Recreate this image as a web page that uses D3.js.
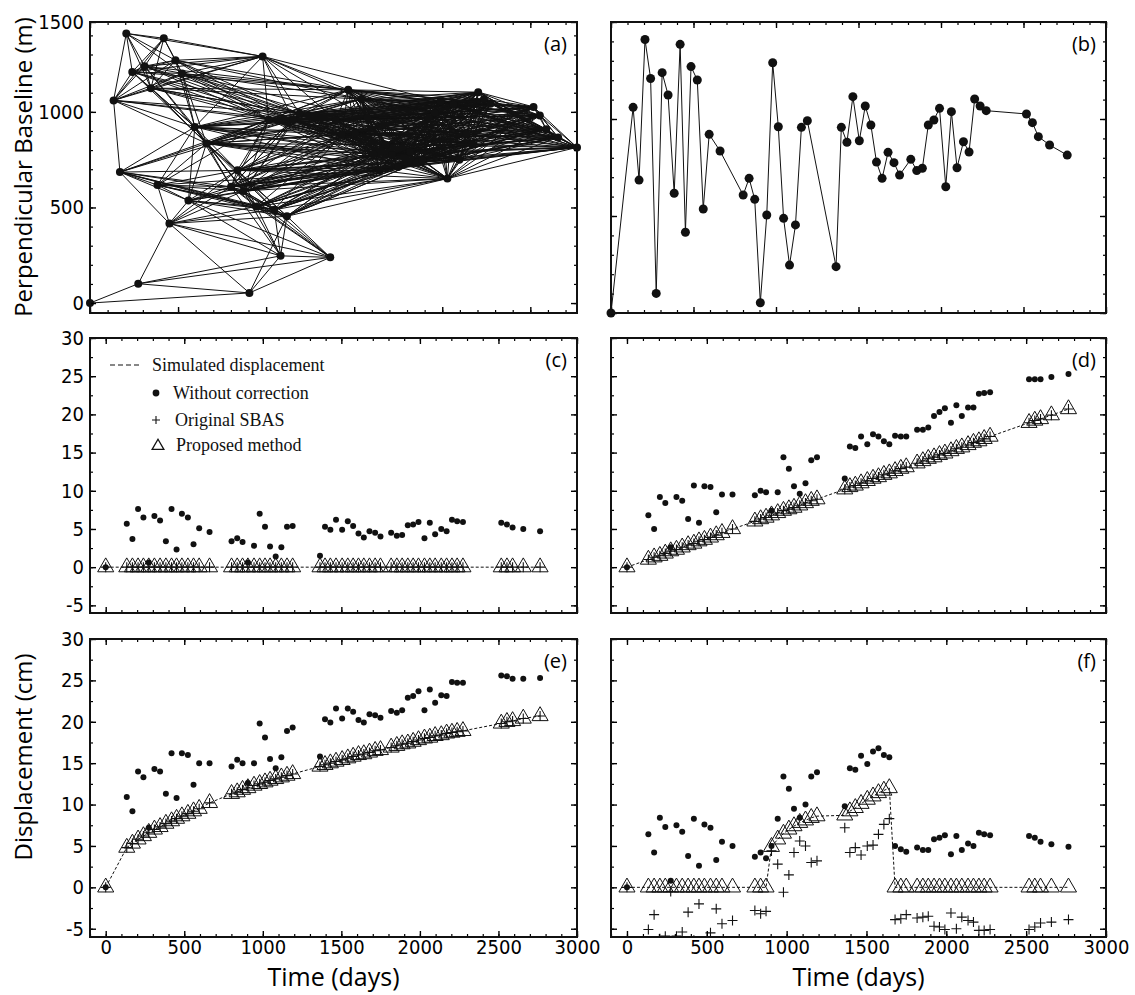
<!DOCTYPE html>
<html>
<head>
<meta charset="utf-8">
<script src="https://cdn.jsdelivr.net/npm/d3@7"></script>
<style>
  body { margin: 0; background: #fff; }
  svg { display: block; }
</style>
</head>
<body>
<svg id="fig" width="1135" height="995"></svg>
<script>
// acquisition dates (days after the first image), grouped the way they cluster in the plots
var times = [
  0,
  134, 170, 206, 240, 274, 310, 346, 383, 419, 451, 485, 523, 559, 595, 661,
  801, 837, 871, 905, 944, 980, 1014, 1046, 1082, 1118, 1154, 1190,
  1364, 1396, 1430, 1466, 1505, 1541, 1575, 1609, 1643, 1679, 1715, 1749,
  1817, 1853, 1887, 1923, 1957, 1991, 2029, 2063, 2097, 2136, 2170, 2204, 2237, 2274,
  2518, 2554, 2590, 2658, 2765
];
// perpendicular baseline of each acquisition (m)
var baselines = [
  0,
  1060, 685, 1410, 1209, 101, 1239, 1124, 617, 1385, 416, 1270, 1201, 536, 921, 835,
  608, 694, 586, 53, 505, 1290, 960, 488, 247, 454, 957, 991,
  239, 957, 880, 1115, 888, 1067, 969, 778, 694, 828, 775, 711,
  792, 734, 746, 969, 995, 1055, 651, 1038, 749, 883, 830, 1103, 1067, 1043,
  1026, 981, 909, 866, 814
];
// interferogram pair selection used for the network in (a)
var maxTemporal = 1300;   // days
var maxPerp = 420;        // m

// (c) no deformation
var simC = [
  0,
  0, 0, 0, 0, 0, 0, 0, 0, 0, 0, 0, 0, 0, 0, 0,
  0, 0, 0, 0, 0, 0, 0, 0, 0, 0, 0, 0,
  0, 0, 0, 0, 0, 0, 0, 0, 0, 0, 0, 0,
  0, 0, 0, 0, 0, 0, 0, 0, 0, 0, 0, 0, 0, 0,
  0, 0, 0, 0, 0
];
var noCorrC = [
  0,
  5.7, 3.7, 7.6, 6.5, 0.6, 6.7, 6.1, 3.4, 7.6, 2.3, 7.0, 6.5, 3.0, 5.1, 4.6,
  3.4, 3.8, 3.3, 0.6, 2.8, 7.0, 5.3, 2.7, 1.4, 2.6, 5.3, 5.4,
  1.5, 5.3, 4.9, 6.2, 4.9, 6.0, 5.4, 4.4, 3.9, 4.7, 4.5, 4.0,
  4.5, 4.1, 4.2, 5.5, 5.6, 5.9, 3.8, 5.8, 4.3, 5.0, 4.7, 6.2, 6.0, 5.9,
  5.8, 5.6, 5.2, 5.0, 4.7
];
// (d) linear deformation
var simD = [
  0,
  1.0, 1.3, 1.5, 1.8, 2.1, 2.3, 2.6, 2.9, 3.1, 3.4, 3.6, 3.9, 4.2, 4.5, 5.0,
  6.0, 6.3, 6.5, 6.8, 7.1, 7.4, 7.6, 7.8, 8.1, 8.4, 8.7, 8.9,
  10.2, 10.5, 10.7, 11.0, 11.3, 11.6, 11.8, 12.1, 12.3, 12.6, 12.9, 13.1,
  13.6, 13.9, 14.2, 14.4, 14.7, 14.9, 15.2, 15.5, 15.7, 16.0, 16.3, 16.5, 16.8, 17.1,
  18.9, 19.2, 19.4, 19.9, 20.7
];
var noCorrD = [
  0,
  6.8, 5.0, 9.2, 8.4, 2.6, 9.2, 8.7, 6.3, 10.7, 5.8, 10.6, 10.5, 7.2, 9.5, 9.5,
  9.4, 10.0, 9.8, 7.4, 9.8, 14.4, 12.9, 10.6, 9.6, 11.0, 14.0, 14.4,
  11.6, 15.8, 15.6, 17.1, 16.1, 17.4, 17.1, 16.5, 16.1, 17.2, 17.1, 17.1,
  18.0, 18.0, 18.3, 19.8, 20.3, 20.8, 18.9, 21.2, 19.8, 20.9, 20.9, 22.7, 22.8, 22.9,
  24.6, 24.6, 24.6, 24.9, 25.3
];
// (e) nonlinear deformation
var simE = [
  0,
  4.8, 5.3, 5.8, 6.2, 6.6, 7.0, 7.3, 7.7, 8.0, 8.3, 8.6, 8.9, 9.2, 9.5, 10.2,
  11.3, 11.5, 11.8, 12.0, 12.3, 12.5, 12.7, 12.9, 13.1, 13.3, 13.5, 13.7,
  14.6, 14.8, 15.0, 15.2, 15.4, 15.6, 15.8, 16.0, 16.1, 16.3, 16.5, 16.6,
  16.9, 17.1, 17.3, 17.4, 17.6, 17.8, 18.0, 18.1, 18.3, 18.4, 18.6, 18.7, 18.8, 18.9,
  19.8, 20.0, 20.1, 20.4, 20.7
];
var noCorrE = [
  0,
  10.9, 9.2, 14.0, 13.3, 7.2, 14.3, 14.0, 11.3, 16.2, 10.8, 16.2, 16.0, 12.4, 15.0, 15.0,
  14.6, 15.4, 15.0, 12.6, 15.0, 19.8, 18.1, 15.5, 14.4, 15.7, 18.9, 19.3,
  15.8, 20.3, 19.9, 21.6, 20.4, 21.6, 21.2, 20.2, 19.9, 20.9, 20.8, 20.5,
  21.3, 21.1, 21.4, 22.9, 23.1, 23.7, 21.4, 23.9, 22.3, 23.2, 23.1, 24.8, 24.7, 24.7,
  25.6, 25.5, 25.2, 25.2, 25.3
];
// (f) deformation with jumps
var simF = [
  0,
  0, 0, 0, 0, 0, 0, 0, 0, 0, 0, 0, 0, 0, 0, 0,
  0, 0, 0, 4.9, 5.8, 6.5, 7.0, 7.4, 7.8, 8.1, 8.4, 8.6,
  8.7, 9.2, 9.6, 10.1, 10.6, 11.0, 11.4, 11.7, 12.0, 0, 0, 0,
  0, 0, 0, 0, 0, 0, 0, 0, 0, 0, 0, 0, 0, 0,
  0, 0, 0, 0, 0
];
var noCorrF = [
  0,
  6.4, 4.2, 8.4, 7.3, 0.8, 7.5, 6.7, 3.8, 8.3, 2.6, 7.6, 7.2, 3.3, 5.5, 5.0,
  3.7, 4.2, 3.5, 5.0, 8.3, 13.4, 11.9, 9.5, 8.4, 10.0, 13.4, 13.9,
  9.8, 14.4, 14.2, 15.9, 14.9, 16.4, 16.8, 16.0, 15.7, 5.0, 4.6, 4.3,
  4.8, 4.5, 4.5, 5.8, 6.0, 6.3, 4.0, 6.2, 4.5, 5.3, 5.0, 6.6, 6.4, 6.3,
  6.2, 6.0, 5.5, 5.2, 4.9
];
var sbasF = [
  0,
  -5.1, -3.3, -6.2, -5.9, -0.5, -5.9, -5.4, -3.0, -6.4, -2.0, -6.5, -5.5, -2.6, -4.4, -4.0,
  -2.8, -3.2, -2.9, 4.4, 2.8, -0.6, 1.5, 4.2, 5.6, 5.0, 3.0, 3.2,
  7.2, 4.2, 4.8, 3.9, 5.0, 5.1, 6.4, 7.6, 8.3, -3.9, -3.8, -3.3,
  -3.7, -3.6, -3.5, -4.7, -4.8, -5.1, -3.1, -5.0, -3.6, -4.0, -4.2, -5.2, -5.2, -5.1,
  -5.1, -4.8, -4.3, -4.2, -3.9
];

var legendLabels = ["Simulated displacement", "Without correction", "Original SBAS", "Proposed method"];
var dispTicks = [-5, 0, 5, 10, 15, 20, 25, 30];
var dispMinor = [-5, -2.5, 0, 2.5, 5, 7.5, 10, 12.5, 15, 17.5, 20, 22.5, 25, 27.5, 30];
var dayTicks = [0, 500, 1000, 1500, 2000, 2500, 3000];
var baseTicks = [0, 500, 1000, 1500];

var tickFont = '"Liberation Sans Narrow", "DejaVu Sans Condensed", sans-serif';
var titleFont = '"Open Sans", "Liberation Sans", sans-serif';

var svg = d3.select("#fig");

// panel boxes
var colL = [90, 577], colR = [611, 1106];
var rowTop = [22, 313], rowMid = [338, 613], rowBot = [639, 937];

function box(col, row) { return {x0: col[0], x1: col[1], y0: row[0], y1: row[1]}; }

function addTicks(g, b, x, y, o) {
  var sides = [
    [d3.axisBottom, x, "translate(0," + b.y1 + ")", o.xMajor, o.xMinor, o.xLabels, 3],
    [d3.axisTop, x, "translate(0," + b.y0 + ")", o.xMajor, o.xMinor, false, 3],
    [d3.axisLeft, y, "translate(" + b.x0 + ",0)", o.yMajor, o.yMinor, o.yLabels, 6],
    [d3.axisRight, y, "translate(" + b.x1 + ",0)", o.yMajor, o.yMinor, false, 6]
  ];
  sides.forEach(function(s) {
    g.append("g").attr("transform", s[2])
      .call(s[0](s[1]).tickValues(s[4]).tickSizeInner(-3).tickSizeOuter(0).tickFormat(""))
      .call(function(a) { a.select(".domain").remove(); })
      .selectAll("line").attr("stroke-width", 1.2);
    var ax = g.append("g").attr("transform", s[2])
      .call(s[0](s[1]).tickValues(s[3]).tickSizeInner(-6).tickSizeOuter(0).tickPadding(s[6])
        .tickFormat(s[5] ? function(d) { return String(d); } : ""))
      .call(function(a) { a.select(".domain").remove(); });
    ax.selectAll("line").attr("stroke-width", 1.4);
    ax.attr("font-family", tickFont).attr("font-size", 20).attr("fill", "#111");
  });
  g.append("rect")
    .attr("x", b.x0).attr("y", b.y0)
    .attr("width", b.x1 - b.x0).attr("height", b.y1 - b.y0)
    .attr("fill", "none").attr("stroke", "#111").attr("stroke-width", 2);
}

function panelLabel(b, txt) {
  svg.append("text")
    .attr("x", b.x1 - 10).attr("y", b.y0 + 29)
    .attr("text-anchor", "end")
    .attr("font-family", titleFont).attr("font-size", 20)
    .text(txt);
}

// ---------- (a) interferogram network ----------
var bA = box(colL, rowTop);
var xA = d3.scaleLinear().domain([0, d3.max(times)]).range([bA.x0, bA.x1]);
var yA = d3.scaleLinear().domain([-52, 1470]).range([bA.y1, bA.y0]).clamp(true);
var gA = svg.append("g");

var pairs = [];
times.forEach(function(t, i) {
  for (var j = i + 1; j < times.length; j++) {
    var dt = (times[j] - t) / maxTemporal, db = (baselines[j] - baselines[i]) / maxPerp;
    if (dt * dt + db * db <= 1) pairs.push([i, j]);
  }
});
gA.append("g").selectAll("line")
  .data(pairs)
  .join("line")
    .attr("x1", function(p) { return xA(times[p[0]]); })
    .attr("y1", function(p) { return yA(baselines[p[0]]); })
    .attr("x2", function(p) { return xA(times[p[1]]); })
    .attr("y2", function(p) { return yA(baselines[p[1]]); })
    .attr("stroke", "#111").attr("stroke-width", 1);
gA.append("g").selectAll("circle")
  .data(times)
  .join("circle")
    .attr("cx", function(d) { return xA(d); })
    .attr("cy", function(d, i) { return yA(baselines[i]); })
    .attr("r", 4).attr("fill", "#111");
addTicks(gA, bA, xA, yA, {
  xMajor: [0, 500, 1000, 1500, 2000, 2500], xMinor: d3.range(0, 2765, 100), xLabels: false,
  yMajor: baseTicks, yMinor: d3.range(0, 1401, 100), yLabels: true
});
panelLabel(bA, "(a)");

// ---------- (b) baseline sequence ----------
var bB = box(colR, rowTop);
var xB = d3.scaleLinear().domain([0, 3000]).range([bB.x0, bB.x1]);
var yB = d3.scaleLinear().domain([0, 1500]).range([bB.y1, bB.y0]);
var gB = svg.append("g");
gB.append("path")
  .datum(times)
  .attr("fill", "none").attr("stroke", "#111").attr("stroke-width", 1)
  .attr("d", d3.line().x(function(d) { return xB(d); }).y(function(d, i) { return yB(baselines[i]); }));
gB.append("g").selectAll("circle")
  .data(times)
  .join("circle")
    .attr("cx", function(d) { return xB(d); })
    .attr("cy", function(d, i) { return yB(baselines[i]); })
    .attr("r", 4.5).attr("fill", "#111");
addTicks(gB, bB, xB, yB, {
  xMajor: [0, 500, 1000, 1500, 2000, 2500, 3000], xMinor: d3.range(0, 3001, 100), xLabels: false,
  yMajor: baseTicks, yMinor: d3.range(0, 1501, 100), yLabels: false
});
panelLabel(bB, "(b)");

// ---------- (c)-(f) displacement time series ----------
var tri = d3.symbol().type(d3.symbolTriangle).size(112);
var plusPath = "M-5,0H5M0,-5V5";

var panels = [
  {id: "c", col: colL, row: rowMid, sim: simC, dots: noCorrC, sbas: simC, prop: simC, xLabels: false},
  {id: "d", col: colR, row: rowMid, sim: simD, dots: noCorrD, sbas: simD, prop: simD, xLabels: false},
  {id: "e", col: colL, row: rowBot, sim: simE, dots: noCorrE, sbas: simE, prop: simE, xLabels: true},
  {id: "f", col: colR, row: rowBot, sim: simF, dots: noCorrF, sbas: sbasF, prop: simF, xLabels: true}
];

panels.forEach(function(p) {
  var b = box(p.col, p.row);
  var x = d3.scaleLinear().domain([-100, 3000]).range([b.x0, b.x1]);
  var y = d3.scaleLinear().domain([-6, 30]).range([b.y1, b.y0]);
  var g = svg.append("g");

  g.append("clipPath").attr("id", "clip-" + p.id)
    .append("rect").attr("x", b.x0).attr("y", b.y0)
    .attr("width", b.x1 - b.x0).attr("height", b.y1 - b.y0);
  var plot = g.append("g").attr("clip-path", "url(#clip-" + p.id + ")");

  plot.append("path")
    .datum(times)
    .attr("fill", "none").attr("stroke", "#111").attr("stroke-width", 1)
    .attr("stroke-dasharray", "3,2")
    .attr("d", d3.line().x(function(d) { return x(d); }).y(function(d, i) { return y(p.sim[i]); }));

  plot.append("g").selectAll("path")
    .data(times)
    .join("path")
      .attr("transform", function(d, i) { return "translate(" + x(d) + "," + y(p.prop[i]) + ")"; })
      .attr("d", tri)
      .attr("fill", "none").attr("stroke", "#111").attr("stroke-width", 1);

  plot.append("g").selectAll("path")
    .data(times)
    .join("path")
      .attr("transform", function(d, i) { return "translate(" + x(d) + "," + y(p.sbas[i]) + ")"; })
      .attr("d", plusPath)
      .attr("fill", "none").attr("stroke", "#111").attr("stroke-width", 1.1);

  plot.append("g").selectAll("circle")
    .data(times)
    .join("circle")
      .attr("cx", function(d) { return x(d); })
      .attr("cy", function(d, i) { return y(p.dots[i]); })
      .attr("r", 3).attr("fill", "#111");

  addTicks(g, b, x, y, {
    xMajor: dayTicks, xMinor: d3.range(-100, 3001, 100), xLabels: p.xLabels,
    yMajor: dispTicks, yMinor: dispMinor, yLabels: p.col === colL
  });
  panelLabel(b, "(" + p.id + ")");

  if (p.id === "c") {
    var lg = g.append("g")
      .attr("font-family", '"Liberation Serif", "Times New Roman", serif')
      .attr("font-size", 18).attr("fill", "#111");
    lg.append("line")
      .attr("x1", 110).attr("x2", 141).attr("y1", 365).attr("y2", 365)
      .attr("stroke", "#111").attr("stroke-width", 1.2).attr("stroke-dasharray", "5,3");
    lg.append("circle").attr("cx", 156).attr("cy", 393).attr("r", 3.4).attr("fill", "#111");
    lg.append("path").attr("transform", "translate(156,420)").attr("d", "M-4,0H4M0,-4V4")
      .attr("stroke", "#111").attr("stroke-width", 1.1);
    lg.append("path").attr("transform", "translate(158,446)")
      .attr("d", d3.symbol().type(d3.symbolTriangle).size(60))
      .attr("fill", "none").attr("stroke", "#111").attr("stroke-width", 1.3);
    var lx = [152, 173, 175, 176], ly = [371, 399, 426, 451];
    legendLabels.forEach(function(t, i) {
      lg.append("text").attr("x", lx[i]).attr("y", ly[i]).text(t);
    });
  }
});

// ---------- axis titles ----------
svg.append("text")
  .attr("transform", "translate(32,167) rotate(-90)")
  .attr("text-anchor", "middle")
  .attr("font-family", titleFont).attr("font-size", 24)
  .text("Perpendicular Baseline (m)");
svg.append("text")
  .attr("transform", "translate(32,757) rotate(-90)")
  .attr("text-anchor", "middle")
  .attr("font-family", titleFont).attr("font-size", 24)
  .text("Displacement (cm)");
[colL, colR].forEach(function(c) {
  svg.append("text")
    .attr("x", (c[0] + c[1]) / 2).attr("y", 986)
    .attr("text-anchor", "middle")
    .attr("font-family", titleFont).attr("font-size", 25)
    .text("Time (days)");
});
</script>
</body>
</html>
